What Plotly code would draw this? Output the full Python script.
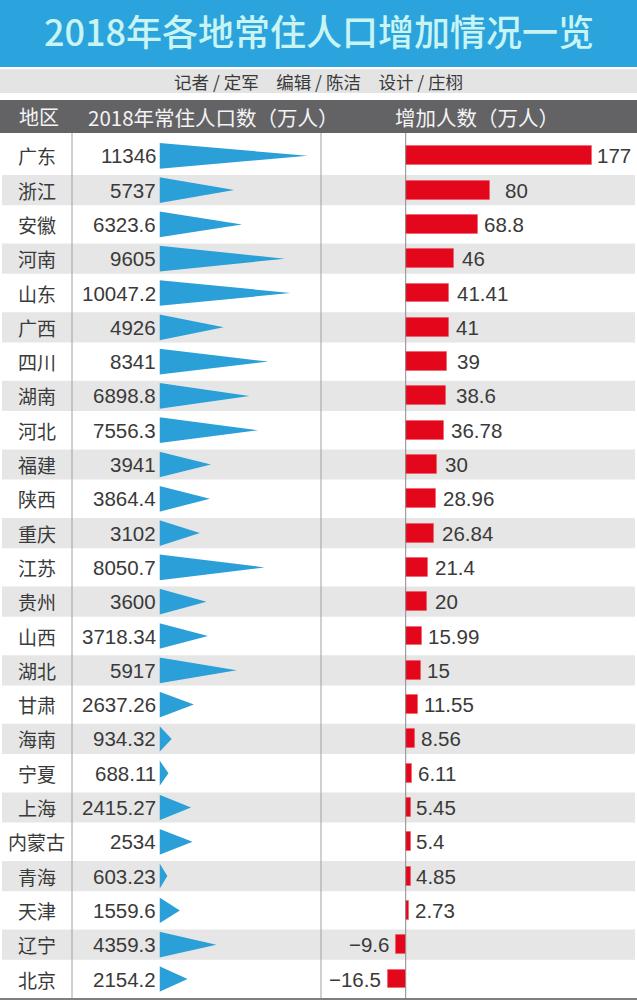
import plotly.graph_objects as go

regions = ["广东","浙江","安徽","河南","山东","广西","四川","湖南","河北","福建","陕西","重庆","江苏","贵州","山西","湖北","甘肃","海南","宁夏","上海","内蒙古","青海","天津","辽宁","北京"]
population_labels = ["11346","5737","6323.6","9605","10047.2","4926","8341","6898.8","7556.3","3941","3864.4","3102","8050.7","3600","3718.34","5917","2637.26","934.32","688.11","2415.27","2534","603.23","1559.6","4359.3","2154.2"]
population = [float(v) for v in population_labels]
increase_labels = ["177","80","68.8","46","41.41","41","39","38.6","36.78","30","28.96","26.84","21.4","20","15.99","15","11.55","8.56","6.11","5.45","5.4","4.85","2.73","−9.6","−16.5"]
increase = [float(v.replace("−","-")) for v in increase_labels]
label_gaps = [4,14,5,7,7,6,9,9,6,7,6,7,6,7,5,5,5,5,5,4,4,4,5,6,6]

W, H = 637, 1000
FONT = "Liberation Sans, Noto Sans CJK SC, sans-serif"
CJK = "Noto Sans CJK SC, Liberation Sans, sans-serif"
TOP, BOTTOM, ROW0, STEP = 133, 998, 155.8, 34.3
TRI0, TRI_SCALE = 159.5, 0.01304
BAR0, BAR_SCALE = 405.7, 1.05
px = lambda x: x / W
py = lambda y: 1 - y / H
row_count = len(regions)
rows = list(range(row_count))

fig = go.Figure()

tx, ty = [], []
for i, v in zip(rows, population):
    tx += [0, v, 0, None]
    ty += [i - 0.375, i, i + 0.375, None]
fig.add_trace(go.Scatter(x=tx, y=ty, mode="lines", fill="toself", fillcolor="#2a9fd8",
                         line=dict(width=0), hoverinfo="skip", showlegend=False))
fig.add_trace(go.Bar(x=increase, y=rows, orientation="h", width=0.55,
                     marker=dict(color="#e4071b", line=dict(color="rgba(240,80,90,0.45)", width=1)),
                     xaxis="x2", yaxis="y", showlegend=False, hoverinfo="skip"))

annotations = []
for i, name in zip(rows, regions):
    annotations.append(dict(text=name, x=px(36.5), xref="paper", y=i, yref="y", showarrow=False,
                            xanchor="center", yanchor="middle", font=dict(family=CJK, size=19, color="#3a3a3a")))
for i, lab in zip(rows, population_labels):
    annotations.append(dict(text=lab, x=0, xref="x", y=i, yref="y", showarrow=False,
                            xanchor="right", yanchor="middle", xshift=-2.5, borderpad=0,
                            font=dict(family=FONT, size=20.5, color="#3a3a3a")))
for i, v, lab, gap in zip(rows, increase, increase_labels, label_gaps):
    annotations.append(dict(text=lab, x=v, xref="x2", y=i, yref="y", showarrow=False,
                            xanchor="left" if v >= 0 else "right", yanchor="middle",
                            xshift=gap if v >= 0 else -gap, borderpad=0,
                            font=dict(family=FONT, size=20.5, color="#3a3a3a")))
for txt, cx, size in [("地区", 39, 20), ("2018年常住人口数（万人）", 213.5, 20.5), ("增加人数（万人）", 476.5, 20.5)]:
    annotations.append(dict(text=txt, x=px(cx), xref="paper", y=py(116.5), yref="paper", showarrow=False,
                            xanchor="center", yanchor="middle", font=dict(family=CJK, size=size, color="#f4f4f4")))
annotations.append(dict(text="记者 / 定军\u3000编辑 / 陈洁\u3000设计 / 庄栩", x=px(319), xref="paper", y=py(81.5), yref="paper",
                        showarrow=False, xanchor="center", yanchor="middle", font=dict(family=CJK, size=17.5, color="#3a3a3a")))

shapes = [
    dict(type="rect", xref="paper", yref="paper", x0=0, x1=1, y0=py(67), y1=1, fillcolor="#2ba3dc", line_width=0, layer="below"),
    dict(type="rect", xref="paper", yref="paper", x0=0, x1=1, y0=py(93), y1=py(69), fillcolor="#e4e4e4", line_width=0, layer="below"),
    dict(type="rect", xref="paper", yref="paper", x0=0, x1=1, y0=py(133), y1=py(100), fillcolor="#636366", line_width=0, layer="below"),
]
for i in rows[1::2]:
    shapes.append(dict(type="rect", xref="paper", yref="y", x0=px(2), x1=px(635), y0=i - 0.44, y1=i + 0.44,
                       fillcolor="#e6e6e6", line_width=0, layer="below"))
for x in (72, 321):
    shapes.append(dict(type="line", xref="paper", yref="paper", x0=px(x), x1=px(x), y0=py(BOTTOM), y1=py(TOP),
                       line=dict(color="#a0a0a0", width=1), layer="below"))
shapes.append(dict(type="line", xref="paper", yref="paper", x0=px(BAR0), x1=px(BAR0), y0=py(BOTTOM), y1=py(TOP),
                   line=dict(color="#8a8a8a", width=1), layer="above"))
shapes.append(dict(type="line", xref="paper", yref="paper", x0=0, x1=1, y0=py(BOTTOM + 1), y1=py(BOTTOM + 1),
                   line=dict(color="#555555", width=1.5), layer="above"))

hidden = dict(showgrid=False, zeroline=False, showticklabels=False, ticks="", showline=False, fixedrange=True)
fig.update_layout(
    width=W, height=H, margin=dict(l=0, r=0, t=0, b=0), autosize=False,
    paper_bgcolor="white", plot_bgcolor="rgba(0,0,0,0)",
    title=dict(text="2018年各地常住人口增加情况一览", x=px(319), y=py(33), xanchor="center", yanchor="middle",
               xref="paper", yref="paper", font=dict(family=CJK, size=36, weight=500, color="#c8f4f4")),
    xaxis=dict(domain=[px(TRI0), px(321)], range=[0, (321 - TRI0) / TRI_SCALE], anchor="y", **hidden),
    xaxis2=dict(domain=[px(321), 1], range=[(321 - BAR0) / BAR_SCALE, (W - BAR0) / BAR_SCALE], anchor="y", **hidden),
    yaxis=dict(domain=[py(BOTTOM), py(TOP)], range=[(BOTTOM - ROW0) / STEP, (TOP - ROW0) / STEP], **hidden),
    annotations=annotations, shapes=shapes, bargap=0,
)
fig.write_html("out.html", post_script="document.body.style.margin='0';", config=dict(displayModeBar=False))
